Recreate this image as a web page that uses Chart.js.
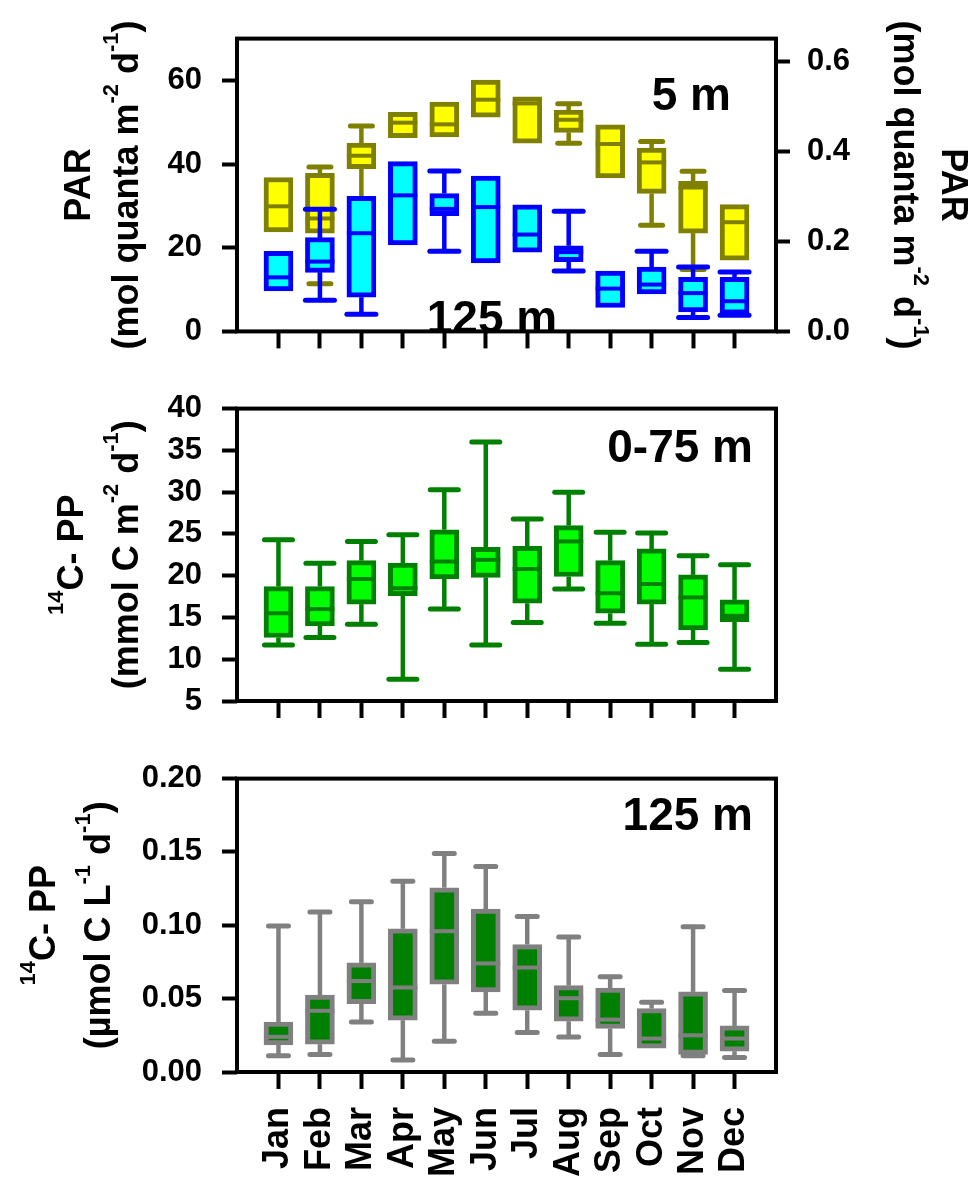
<!DOCTYPE html>
<html lang="en">
<head>
<meta charset="UTF-8" />
<title>PAR and 14C-PP monthly box plots</title>
<script src="https://cdn.jsdelivr.net/npm/chart.js"></script>
<style>
    body { margin: 0; background: #fff; }
    #wrap { position: relative; width: 977px; height: 1181px; background: #fff; }
    canvas { position: absolute; left: 0; }
</style>
</head>
<body>
<div id="wrap">
    <canvas id="c1" width="977" height="370" style="top:0px"></canvas>
    <canvas id="c2" width="977" height="370" style="top:370px"></canvas>
    <canvas id="c3" width="977" height="441" style="top:740px"></canvas>
</div>
<script>
    const months = ["Jan", "Feb", "Mar", "Apr", "May", "Jun", "Jul", "Aug", "Sep", "Oct", "Nov", "Dec"];

    // tick labels
    const parTicks = [0, 20, 40, 60];
    const parDeepTicks = [0.0, 0.2, 0.4, 0.6];
    const ppTicks = [5, 10, 15, 20, 25, 30, 35, 40];
    const pp125Ticks = [0.0, 0.05, 0.1, 0.15, 0.2];

    // PAR at 5 m (left axis)
    const par5Min = [23.8, 11.4, 31.0, 46.3, 46.5, 51.2, 45.0, 45.0, 36.7, 25.4, 14.8, 17.0];
    const par5Q1 = [23.8, 23.5, 38.9, 46.3, 46.5, 51.2, 45.0, 47.6, 36.7, 33.0, 23.5, 17.0];
    const par5Med = [29.9, 27.0, 42.0, 49.9, 49.5, 55.4, 54.5, 50.6, 44.8, 40.4, 34.4, 26.1];
    const par5Q3 = [36.8, 37.8, 45.0, 52.4, 54.8, 60.1, 56.1, 52.9, 49.4, 43.8, 35.9, 30.3];
    const par5Max = [36.8, 39.3, 49.1, 52.4, 54.8, 60.1, 56.1, 54.4, 49.4, 45.4, 38.3, 30.3];

    // PAR at 125 m (right axis)
    const par125Min = [0.090, 0.069, 0.038, 0.192, 0.178, 0.152, 0.176, 0.134, 0.053, 0.083, 0.031, 0.036];
    const par125Q1 = [0.090, 0.131, 0.076, 0.192, 0.257, 0.152, 0.176, 0.155, 0.053, 0.083, 0.043, 0.038];
    const par125Med = [0.120, 0.155, 0.218, 0.302, 0.272, 0.276, 0.215, 0.176, 0.095, 0.104, 0.085, 0.067];
    const par125Q3 = [0.178, 0.208, 0.300, 0.377, 0.306, 0.345, 0.281, 0.190, 0.134, 0.143, 0.120, 0.120];
    const par125Max = [0.178, 0.271, 0.300, 0.377, 0.356, 0.345, 0.281, 0.267, 0.134, 0.178, 0.143, 0.132];

    // 14C-PP integrated 0-75 m
    const ppMin = [11.7, 12.6, 14.2, 7.6, 16.0, 11.7, 14.4, 18.4, 14.3, 11.8, 12.0, 8.8];
    const ppQ1 = [12.6, 14.0, 16.6, 17.6, 19.6, 19.8, 16.7, 19.9, 15.5, 16.6, 13.5, 14.5];
    const ppMed = [15.5, 16.0, 19.6, 18.5, 21.7, 21.9, 20.8, 24.1, 17.9, 19.0, 17.4, 15.2];
    const ppQ3 = [18.7, 18.7, 21.8, 21.5, 25.5, 23.4, 23.5, 26.0, 21.8, 23.2, 20.1, 17.1];
    const ppMax = [24.3, 21.5, 24.1, 24.9, 30.3, 36.0, 26.8, 30.0, 25.2, 25.1, 22.4, 21.3];

    // 14C-PP at 125 m
    const pp125Min = [0.011, 0.012, 0.034, 0.0082, 0.021, 0.040, 0.027, 0.0239, 0.012, 0.0163, 0.011, 0.0099];
    const pp125Q1 = [0.0185, 0.019, 0.0465, 0.0353, 0.0598, 0.0546, 0.0421, 0.0346, 0.0297, 0.0163, 0.012, 0.0142];
    const pp125Med = [0.024, 0.0417, 0.062, 0.0576, 0.096, 0.074, 0.0712, 0.0503, 0.0357, 0.0228, 0.025, 0.0228];
    const pp125Q3 = [0.034, 0.0525, 0.0744, 0.0976, 0.1256, 0.111, 0.0869, 0.0589, 0.0572, 0.0432, 0.0546, 0.0314];
    const pp125Max = [0.0996, 0.109, 0.116, 0.130, 0.149, 0.140, 0.106, 0.092, 0.065, 0.0475, 0.099, 0.0555];

    const FONT = '"Liberation Sans", Arial, sans-serif';
    Chart.defaults.font.family = FONT;
    Chart.defaults.font.weight = "bold";
    Chart.defaults.color = "#000";

    function boxSet(stats, fill, line, capW, axis, order) {
        return {
            data: stats.q1.map((v, i) => ({ x: i + 1, y: [v, stats.q3[i]] })),
            stats: stats,
            capW: capW,
            backgroundColor: fill,
            borderColor: line,
            borderWidth: 5,
            borderSkipped: false,
            barThickness: 29,
            grouped: false,
            yAxisID: axis,
            order: order,
        };
    }

    // whiskers + caps before the box, median after it
    const boxPlugin = {
        id: "boxes",
        beforeDatasetDraw(chart, args) {
            const ds = chart.data.datasets[args.index];
            const s = ds.stats;
            const y = chart.scales[ds.yAxisID];
            const ctx = chart.ctx;
            ctx.save();
            ctx.strokeStyle = ds.borderColor;
            args.meta.data.forEach((el, i) => {
                const ends = [[s.q3[i], s.max[i]], [s.q1[i], s.min[i]]];
                ends.forEach(([from, to]) => {
                    if (Math.abs(to - from) < 1e-9) return;
                    ctx.lineWidth = 4.5;
                    ctx.lineCap = "butt";
                    ctx.beginPath();
                    ctx.moveTo(el.x, y.getPixelForValue(from));
                    ctx.lineTo(el.x, y.getPixelForValue(to));
                    ctx.stroke();
                    ctx.lineWidth = 5;
                    ctx.lineCap = "round";
                    ctx.beginPath();
                    ctx.moveTo(el.x - ds.capW / 2 + 2.5, y.getPixelForValue(to));
                    ctx.lineTo(el.x + ds.capW / 2 - 2.5, y.getPixelForValue(to));
                    ctx.stroke();
                });
            });
            ctx.restore();
        },
        afterDatasetDraw(chart, args) {
            const ds = chart.data.datasets[args.index];
            const y = chart.scales[ds.yAxisID];
            const ctx = chart.ctx;
            ctx.save();
            ctx.strokeStyle = ds.borderColor;
            ctx.lineWidth = 4;
            args.meta.data.forEach((el, i) => {
                const py = y.getPixelForValue(ds.stats.med[i]);
                ctx.beginPath();
                ctx.moveTo(el.x - el.width / 2, py);
                ctx.lineTo(el.x + el.width / 2, py);
                ctx.stroke();
            });
            ctx.restore();
        },
    };

    const framePlugin = {
        id: "frame",
        afterDraw(chart) {
            const a = chart.chartArea;
            const ctx = chart.ctx;
            ctx.save();
            ctx.strokeStyle = "#000";
            ctx.lineWidth = 4;
            ctx.strokeRect(a.left, a.top, a.right - a.left, a.bottom - a.top);
            ctx.restore();
        },
    };

    // rotated axis titles with superscripts, and the depth labels
    function drawRich(ctx, segs, x, y, angle, size) {
        const sup = Math.round(size * 0.6);
        ctx.save();
        ctx.translate(x, y);
        ctx.rotate(angle);
        ctx.fillStyle = "#000";
        ctx.textAlign = "left";
        ctx.textBaseline = "alphabetic";
        const widths = segs.map((s) => {
            ctx.font = "bold " + (s[1] ? sup : size) + "px " + FONT;
            return ctx.measureText(s[0]).width;
        });
        let cx = -widths.reduce((a, b) => a + b, 0) / 2;
        segs.forEach((s, i) => {
            ctx.font = "bold " + (s[1] ? sup : size) + "px " + FONT;
            ctx.fillText(s[0], cx, s[1] ? -size * 0.55 : 0);
            cx += widths[i];
        });
        ctx.restore();
    }

    function textPlugin(titles, labels) {
        return {
            id: "texts",
            afterDraw(chart) {
                const ctx = chart.ctx;
                const a = chart.chartArea;
                const mid = (a.top + a.bottom) / 2;
                titles.forEach((t) => drawRich(ctx, t.segs, t.x, mid, t.angle, 36));
                labels.forEach((l) => {
                    ctx.save();
                    ctx.font = "bold 46px " + FONT;
                    ctx.fillStyle = "#000";
                    ctx.textAlign = l.align;
                    ctx.fillText(l.text, l.x, l.y);
                    ctx.restore();
                });
            },
        };
    }

    function monthAxis(showLabels, height) {
        return {
            type: "linear",
            min: 0,
            max: 13,
            offset: false,
            afterBuildTicks: (axis) => {
                axis.ticks = months.map((m, i) => ({ value: i + 1 }));
            },
            afterFit: (axis) => {
                axis.height = height;
            },
            grid: { offset: false, drawOnChartArea: false, tickLength: 17, tickWidth: 4, tickColor: "#000" },
            border: { display: false },
            ticks: {
                display: showLabels,
                callback: (v) => months[v - 1],
                minRotation: 90,
                maxRotation: 90,
                autoSkip: false,
                padding: 18,
                font: { size: 36 },
            },
        };
    }

    function valueAxis(position, min, max, tickValues, fmt, width) {
        const right = position === "right";
        return {
            position: position,
            min: min,
            max: max,
            afterBuildTicks: (axis) => {
                axis.ticks = tickValues.map((v) => ({ value: v }));
            },
            afterFit: (axis) => {
                axis.width = width;
            },
            grid: { drawOnChartArea: false, tickLength: right ? 14 : 15, tickWidth: 4, tickColor: "#000" },
            border: { display: false },
            ticks: { callback: fmt, padding: right ? 17 : 20, font: { size: 31 } },
        };
    }

    function makeChart(id, datasets, scales, padding, titles, labels) {
        new Chart(document.getElementById(id), {
            type: "bar",
            data: { datasets: datasets },
            options: {
                responsive: false,
                animation: false,
                layout: { padding: padding },
                plugins: { legend: { display: false }, tooltip: { enabled: false } },
                scales: scales,
            },
            plugins: [boxPlugin, framePlugin, textPlugin(titles, labels)],
        });
    }

    const parUnit = [["(mol quanta m"], ["-2", 1], [" d"], ["-1", 1], [")"]];

    makeChart(
        "c1",
        [
            boxSet({ min: par5Min, q1: par5Q1, med: par5Med, q3: par5Q3, max: par5Max },
                "#ffff00", "#808000", 27, "y", 2),
            boxSet({ min: par125Min, q1: par125Q1, med: par125Med, q3: par125Q3, max: par125Max },
                "#00ffff", "#0000ff", 34, "y1", 1),
        ],
        {
            x: monthAxis(false, 28),
            y: valueAxis("left", 0, 70, parTicks, (v) => v, 237),
            y1: valueAxis("right", 0, 0.65, parDeepTicks, (v) => v.toFixed(1), 201),
        },
        { top: 33, left: 0, right: 0, bottom: 0 },
        [
            { segs: [["PAR"]], x: 90, angle: -Math.PI / 2 },
            { segs: parUnit, x: 138, angle: -Math.PI / 2 },
            { segs: [["PAR"]], x: 942, angle: Math.PI / 2 },
            { segs: parUnit, x: 894, angle: Math.PI / 2 },
        ],
        [
            { text: "5 m", x: 731, y: 110, align: "right" },
            { text: "125 m", x: 492, y: 333, align: "center" },
        ]
    );

    makeChart(
        "c2",
        [
            boxSet({ min: ppMin, q1: ppQ1, med: ppMed, q3: ppQ3, max: ppMax },
                "#00ff00", "#008000", 33, "y", 1),
        ],
        {
            x: monthAxis(false, 39),
            y: valueAxis("left", 5, 40, ppTicks, (v) => v, 237),
        },
        { top: 23, left: 0, right: 201, bottom: 0 },
        [
            { segs: [["14", 1], ["C- PP"]], x: 83, angle: -Math.PI / 2 },
            { segs: [["(mmol C m"], ["-2", 1], [" d"], ["-1", 1], [")"]], x: 138, angle: -Math.PI / 2 },
        ],
        [{ text: "0-75 m", x: 753, y: 92, align: "right" }]
    );

    makeChart(
        "c3",
        [
            boxSet({ min: pp125Min, q1: pp125Q1, med: pp125Med, q3: pp125Q3, max: pp125Max },
                "#008000", "#808080", 25, "y", 1),
        ],
        {
            x: monthAxis(true, 109),
            y: valueAxis("left", 0, 0.2, pp125Ticks, (v) => v.toFixed(2), 237),
        },
        { top: 22, left: 0, right: 201, bottom: 0 },
        [
            { segs: [["14", 1], ["C- PP"]], x: 55, angle: -Math.PI / 2 },
            { segs: [["(\u00b5mol C L"], ["-1", 1], [" d"], ["-1", 1], [")"]], x: 110, angle: -Math.PI / 2 },
        ],
        [{ text: "125 m", x: 753, y: 90, align: "right" }]
    );
</script>
</body>
</html>
